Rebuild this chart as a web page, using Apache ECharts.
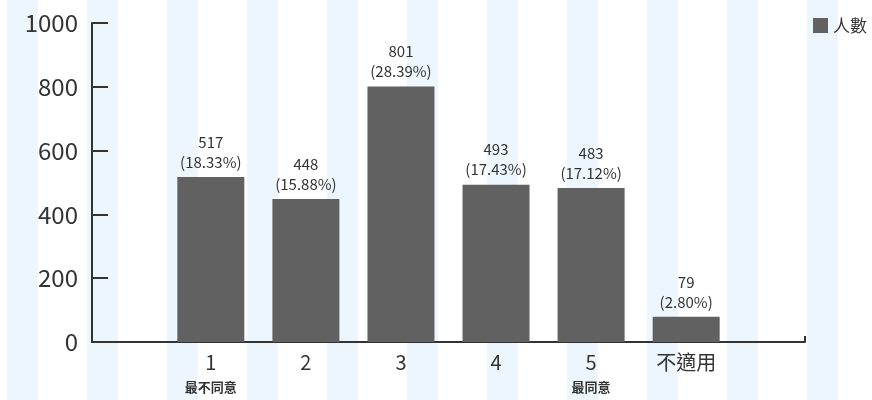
<!DOCTYPE html>
<html>
<head>
<meta charset="utf-8">
<script src="https://cdn.jsdelivr.net/npm/echarts@6/dist/echarts.min.js"></script>
<style>
  html, body { margin: 0; padding: 0; }
  #chart {
    width: 872px;
    height: 400px;
    background: repeating-linear-gradient(to right, #fff 0 7px, #eef6fd 7px 38px, #fff 38px 80px);
  }
</style>
</head>
<body>
<div id="chart"></div>
<script>
var categories = ["1", "2", "3", "4", "5", "不適用"];
var subLabels = ["最不同意", "", "", "", "最同意", ""];
var counts = [517, 448, 801, 493, 483, 79];
var percents = ["18.33%", "15.88%", "28.39%", "17.43%", "17.12%", "2.80%"];
var yTicks = [0, 200, 400, 600, 800, 1000];

var font = "'Noto Sans CJK TC', 'Noto Sans', sans-serif";
var chart = echarts.init(document.getElementById("chart"));

var barData = counts.map(function (v, i) { return [i + 1, v]; });

chart.setOption({
  animation: false,
  textStyle: { fontFamily: font },
  legend: {
    data: ["人數"],
    right: 0,
    top: 12,
    itemWidth: 15,
    itemHeight: 15,
    itemGap: 4,
    icon: "rect",
    textStyle: { fontSize: 17, color: "#333", fontFamily: font }
  },
  grid: { left: 92, right: 67, top: 23, bottom: 54 },
  xAxis: {
    type: "value",
    min: -0.25,
    max: 7.25,
    splitLine: { show: false },
    axisLine: { show: true, onZero: false, lineStyle: { color: "#333", width: 2 } },
    axisTick: {
      show: true,
      inside: true,
      length: 6,
      customValues: [7.25],
      lineStyle: { color: "#333", width: 2 }
    },
    axisLabel: {
      customValues: [1, 2, 3, 4, 5, 6],
      margin: 8,
      color: "#333",
      fontSize: 20,
      lineHeight: 24,
      formatter: function (v) {
        var i = Math.round(v) - 1;
        var s = categories[i];
        if (subLabels[i]) s += "\n{s|" + subLabels[i] + "}";
        return s;
      },
      rich: {
        s: { fontSize: 13, fontWeight: "bold", color: "#333", lineHeight: 26, fontFamily: font }
      }
    }
  },
  yAxis: {
    type: "value",
    min: 0,
    max: 1000,
    interval: 200,
    splitLine: { show: false },
    axisLine: { show: true, onZero: false, lineStyle: { color: "#333", width: 2 } },
    axisTick: { show: true, inside: true, length: 16, lineStyle: { color: "#333", width: 2 } },
    axisLabel: {
      margin: 14,
      color: "#333",
      fontSize: 24,
      customValues: yTicks,
      formatter: function (v) { return String(v); }
    }
  },
  series: [
    {
      name: "人數",
      type: "bar",
      barWidth: 67,
      data: barData,
      itemStyle: { color: "#616161" },
      label: {
        show: true,
        position: "top",
        distance: 5,
        color: "#333",
        fontSize: 15,
        lineHeight: 20,
        formatter: function (p) {
          var i = p.dataIndex;
          return counts[i] + "\n(" + percents[i] + ")";
        }
      }
    }
  ]
});
</script>
</body>
</html>
